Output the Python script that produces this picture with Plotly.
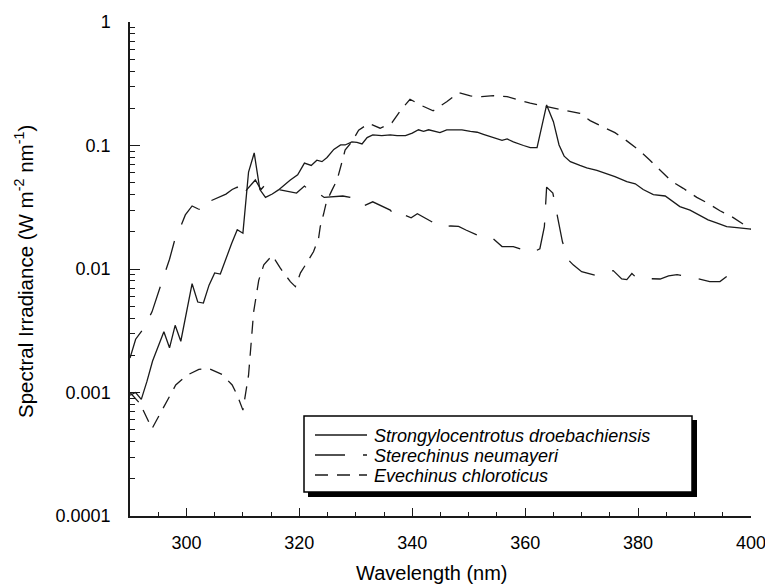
import plotly.graph_objects as go

# Strongylocentrotus droebachiensis (solid)
wl_strong = [290, 291, 292, 293, 294, 296, 297, 298, 299, 300, 301, 302, 303, 304, 305, 306, 307, 308,
             309, 310, 311, 312, 313, 314, 315.2, 316.3, 318.4, 319.7, 320.9, 322.1, 323.1, 324, 324.9,
             326.1, 327.3, 328.1, 329.3, 330.2, 331.1, 332, 333, 334.6, 336.1, 337.3, 338.8, 340, 341.1,
             342, 342.9, 344.9, 346.1, 348.8, 350.3, 351.5, 352.6, 353.8, 354.7, 355.9, 356.8, 357.9,
             359.7, 360.9, 362.1, 363.8, 365, 366, 366.9, 368, 369.7, 370.9, 372.7, 374.5, 375.9, 378,
             379.5, 380.9, 382.7, 384.8, 386.2, 387.4, 389.2, 390.9, 392.4, 393.9, 395.7, 397.5, 400]
irr_strong = [0.00095, 0.0010, 0.00088, 0.00123, 0.0018, 0.0031, 0.0023, 0.0035, 0.0026, 0.0045, 0.0076,
              0.0054, 0.0053, 0.0074, 0.0093, 0.0091, 0.0122, 0.0161, 0.0208, 0.0195, 0.061, 0.087, 0.044,
              0.038, 0.0405, 0.0437, 0.0525, 0.058, 0.072, 0.069, 0.076, 0.074, 0.080, 0.093, 0.101, 0.101,
              0.107, 0.106, 0.103, 0.116, 0.122, 0.120, 0.122, 0.120, 0.120, 0.126, 0.134, 0.130, 0.134,
              0.127, 0.134, 0.134, 0.130, 0.128, 0.123, 0.118, 0.116, 0.110, 0.113, 0.107, 0.100, 0.096,
              0.096, 0.213, 0.156, 0.101, 0.082, 0.074, 0.069, 0.066, 0.063, 0.059, 0.056, 0.051, 0.049,
              0.044, 0.040, 0.039, 0.035, 0.032, 0.030, 0.027, 0.025, 0.0236, 0.022, 0.0216, 0.021]

# Sterechinus neumayeri (long dash)
wl_sterech = [290, 291, 292.2, 293.9, 295.5, 297, 298, 298.6, 299.8, 301, 302.1, 303.2, 303.9, 307, 308.1,
              309, 310, 310.7, 312.2, 313.2, 314.1, 315.4, 316.6, 319.5, 320.9, 322.1, 323.1, 324.4, 327.7,
              329, 331.1, 333, 336.1, 337, 338.1, 339.8, 340.9, 344.2, 345, 346.8, 348.2, 349.5, 352.7,
              354.1, 355.9, 357.9, 361.2, 362.6, 363.4, 363.8, 364.9, 366.6, 367.7, 368.5, 370, 372.4,
              375.6, 377.1, 378, 378.9, 379.8, 383.9, 385.4, 386.9, 388.9, 392.7, 394.5, 396, 397.2]
irr_sterech = [0.0019, 0.0027, 0.0032, 0.0045, 0.0075, 0.012, 0.0177, 0.020, 0.0274, 0.0324, 0.0306, 0.0296,
               0.035, 0.0404, 0.044, 0.046, 0.038, 0.044, 0.0526, 0.044, 0.049, 0.046, 0.0437, 0.0412,
               0.047, 0.042, 0.042, 0.038, 0.039, 0.038, 0.032, 0.035, 0.030, 0.0265, 0.028, 0.026, 0.028,
               0.0231, 0.0218, 0.0223, 0.0221, 0.0207, 0.0178, 0.018, 0.0152, 0.0152, 0.0135, 0.0146, 0.022,
               0.046, 0.0412, 0.0166, 0.0118, 0.0108, 0.0095, 0.0089, 0.0097, 0.0083, 0.0082, 0.0092, 0.0084,
               0.0083, 0.0088, 0.0090, 0.0087, 0.0079, 0.0079, 0.0089, 0.0093]

# Evechinus chloroticus (dash)
wl_evech = [290, 291.8, 293.9, 295.7, 298.1, 300.1, 302.2, 303.9, 306.3, 308.1, 309, 310, 311, 311.9, 312.8,
            313.7, 315.2, 316.6, 318.4, 319.3, 319.9, 320.2, 321.3, 322.5, 323.4, 323.7, 324.3, 324.8, 325.8,
            326.7, 327.8, 328.1, 329.3, 330.5, 332.3, 334.3, 336.4, 337.9, 339.6, 341.8, 343.7, 346.1, 348.2,
            350.3, 352.3, 354.4, 356.8, 358.8, 360.9, 363.2, 365.3, 367.1, 369.7, 371.5, 373.8, 375.9, 378,
            380, 382.1, 384.2, 386, 388, 390.4, 392.4, 394.5, 396.6, 398.6, 400]
irr_evech = [0.0010, 0.00081, 0.00051, 0.00072, 0.00115, 0.00138, 0.00154, 0.00157, 0.0014, 0.00115, 0.00095,
             0.00072, 0.00138, 0.0045, 0.0081, 0.0108, 0.0129, 0.0102, 0.0079, 0.0072, 0.0087, 0.0093, 0.0112,
             0.0138, 0.0177, 0.022, 0.028, 0.035, 0.0437, 0.053, 0.081, 0.092, 0.107, 0.133, 0.151, 0.138,
             0.153, 0.191, 0.237, 0.209, 0.191, 0.226, 0.268, 0.252, 0.249, 0.253, 0.249, 0.234, 0.220, 0.209,
             0.200, 0.191, 0.182, 0.159, 0.142, 0.127, 0.109, 0.093, 0.076, 0.061, 0.051, 0.045, 0.038, 0.034,
             0.0296, 0.0265, 0.0232, 0.021]

series_names = ["Strongylocentrotus droebachiensis", "Sterechinus neumayeri", "Evechinus chloroticus"]
series_dash = ["solid", "30px,18px", "13px,9px"]
x_tickvals = [300, 320, 340, 360, 380, 400]
y_tickvals = [1, 0.1, 0.01, 0.001, 0.0001]
y_ticktext = ["1", "0.1", "0.01", "0.001", "0.0001"]
x_title = "Wavelength (nm)"
y_title = "Spectral Irradiance (W m<sup>-2</sup> nm<sup>-1</sup>)"

FONT = "Liberation Sans, Arial, sans-serif"
INK = "#1a1a1a"

fig = go.Figure()
for wl, irr, name, dash in zip([wl_strong, wl_sterech, wl_evech], [irr_strong, irr_sterech, irr_evech],
                               series_names, series_dash):
    fig.add_trace(go.Scatter(x=wl, y=irr, mode="lines", name=name, showlegend=False,
                             line=dict(color=INK, width=1.3, dash=dash)))

L, R, T, B = 130, 14, 22, 71
W, H = 765, 587
pw, ph = W - L - R, H - T - B


def px2x(px):
    return (px - L) / pw


def py2y(py):
    return (H - B - py) / ph


# legend box with drop shadow
fig.add_shape(type="rect", xref="paper", yref="paper",
              x0=px2x(308), x1=px2x(697), y0=py2y(497), y1=py2y(420),
              fillcolor="black", line=dict(width=0), layer="above")
fig.add_shape(type="rect", xref="paper", yref="paper",
              x0=px2x(304), x1=px2x(692), y0=py2y(492), y1=py2y(416),
              fillcolor="white", line=dict(color="black", width=1.5), layer="above")
row_y = [435, 455, 475]
for name, dash, ry in zip(series_names, series_dash, row_y):
    fig.add_shape(type="line", xref="paper", yref="paper",
                  x0=px2x(315), x1=px2x(367), y0=py2y(ry), y1=py2y(ry),
                  line=dict(color=INK, width=1.3, dash=dash), layer="above")
    fig.add_annotation(xref="paper", yref="paper", x=px2x(372), y=py2y(ry + 1),
                       xanchor="left", yanchor="middle", showarrow=False,
                       text="<i>" + name + "</i>", font=dict(family=FONT, size=18, color="black"))

# axis titles
fig.add_annotation(xref="paper", yref="paper", x=px2x(432), y=py2y(573), xanchor="center", yanchor="middle",
                   showarrow=False, text=x_title, font=dict(family=FONT, size=20, color="black"))
fig.add_annotation(xref="paper", yref="paper", x=px2x(24), y=py2y(272), xanchor="center", yanchor="middle",
                   showarrow=False, textangle=-90, text=y_title, font=dict(family=FONT, size=20.5, color="black"))

fig.update_layout(
    width=W, height=H,
    margin=dict(l=L, r=R, t=T, b=B, autoexpand=False),
    paper_bgcolor="white", plot_bgcolor="white",
    font=dict(family=FONT, size=18, color="black"),
    showlegend=False,
    xaxis=dict(range=[290, 400], tickvals=x_tickvals, ticks="inside", ticklen=8, tickwidth=1.3,
               tickcolor=INK, showline=True, linecolor=INK, linewidth=1.5, showgrid=False, zeroline=False,
               ticklabelstandoff=10, ticklabeloverflow="allow", automargin=False, tickfont=dict(size=18),
               minor=dict(ticks="inside", ticklen=4, tickwidth=1.3, tickcolor=INK, dtick=5, tick0=290,
                          showgrid=False)),
    yaxis=dict(type="log", range=[-4, 0], tickvals=y_tickvals, ticktext=y_ticktext, ticks="inside",
               ticklen=10, tickwidth=1.3, tickcolor=INK, showline=True, linecolor=INK, linewidth=1.5,
               showgrid=False, zeroline=False, ticklabelstandoff=14, ticklabeloverflow="allow",
               automargin=False, tickfont=dict(size=18),
               minor=dict(ticks="inside", ticklen=5, tickwidth=1.3, tickcolor=INK, dtick="D1",
                          showgrid=False)),
)

fig.write_html("out.html")
